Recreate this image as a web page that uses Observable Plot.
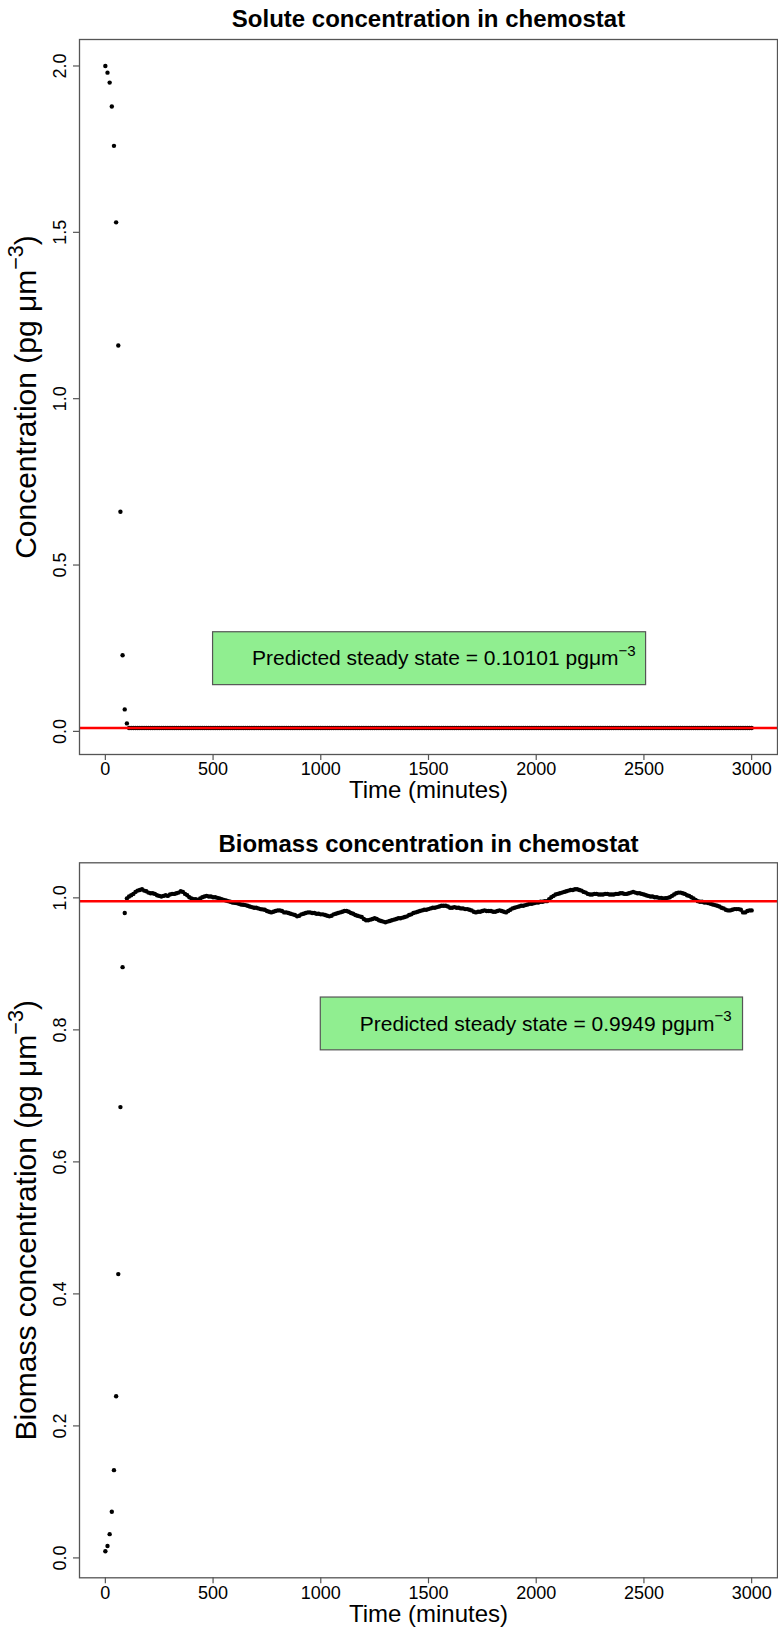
<!DOCTYPE html>
<html>
<head>
<meta charset="utf-8">
<script src="https://cdn.jsdelivr.net/npm/d3@7"></script>
<script src="https://cdn.jsdelivr.net/npm/@observablehq/plot@0.6"></script>
<style>
  html, body { margin: 0; padding: 0; background: #fff; }
  #charts svg { display: block; }
</style>
</head>
<body>
<div id="charts"></div>
<script>
// Sampling times of the simulation (minutes), one sample every 10 minutes
const time = d3.range(0, 3001, 10);

// Solute concentration (pg µm^-3) at each sample time
const solute = [
  2.0, 1.98, 1.95, 1.878, 1.76, 1.53, 1.16, 0.66, 0.229, 0.066, 0.024,
  0.0101, 0.0101, 0.0101, 0.0101, 0.0101, 0.0101, 0.0101, 0.0101, 0.0101, 0.0101,
  0.0101, 0.0101, 0.0101, 0.0101, 0.0101, 0.0101, 0.0101, 0.0101, 0.0101, 0.0101,
  0.0101, 0.0101, 0.0101, 0.0101, 0.0101, 0.0101, 0.0101, 0.0101, 0.0101, 0.0101,
  0.0101, 0.0101, 0.0101, 0.0101, 0.0101, 0.0101, 0.0101, 0.0101, 0.0101, 0.0101,
  0.0101, 0.0101, 0.0101, 0.0101, 0.0101, 0.0101, 0.0101, 0.0101, 0.0101, 0.0101,
  0.0101, 0.0101, 0.0101, 0.0101, 0.0101, 0.0101, 0.0101, 0.0101, 0.0101, 0.0101,
  0.0101, 0.0101, 0.0101, 0.0101, 0.0101, 0.0101, 0.0101, 0.0101, 0.0101, 0.0101,
  0.0101, 0.0101, 0.0101, 0.0101, 0.0101, 0.0101, 0.0101, 0.0101, 0.0101, 0.0101,
  0.0101, 0.0101, 0.0101, 0.0101, 0.0101, 0.0101, 0.0101, 0.0101, 0.0101, 0.0101,
  0.0101, 0.0101, 0.0101, 0.0101, 0.0101, 0.0101, 0.0101, 0.0101, 0.0101, 0.0101,
  0.0101, 0.0101, 0.0101, 0.0101, 0.0101, 0.0101, 0.0101, 0.0101, 0.0101, 0.0101,
  0.0101, 0.0101, 0.0101, 0.0101, 0.0101, 0.0101, 0.0101, 0.0101, 0.0101, 0.0101,
  0.0101, 0.0101, 0.0101, 0.0101, 0.0101, 0.0101, 0.0101, 0.0101, 0.0101, 0.0101,
  0.0101, 0.0101, 0.0101, 0.0101, 0.0101, 0.0101, 0.0101, 0.0101, 0.0101, 0.0101,
  0.0101, 0.0101, 0.0101, 0.0101, 0.0101, 0.0101, 0.0101, 0.0101, 0.0101, 0.0101,
  0.0101, 0.0101, 0.0101, 0.0101, 0.0101, 0.0101, 0.0101, 0.0101, 0.0101, 0.0101,
  0.0101, 0.0101, 0.0101, 0.0101, 0.0101, 0.0101, 0.0101, 0.0101, 0.0101, 0.0101,
  0.0101, 0.0101, 0.0101, 0.0101, 0.0101, 0.0101, 0.0101, 0.0101, 0.0101, 0.0101,
  0.0101, 0.0101, 0.0101, 0.0101, 0.0101, 0.0101, 0.0101, 0.0101, 0.0101, 0.0101,
  0.0101, 0.0101, 0.0101, 0.0101, 0.0101, 0.0101, 0.0101, 0.0101, 0.0101, 0.0101,
  0.0101, 0.0101, 0.0101, 0.0101, 0.0101, 0.0101, 0.0101, 0.0101, 0.0101, 0.0101,
  0.0101, 0.0101, 0.0101, 0.0101, 0.0101, 0.0101, 0.0101, 0.0101, 0.0101, 0.0101,
  0.0101, 0.0101, 0.0101, 0.0101, 0.0101, 0.0101, 0.0101, 0.0101, 0.0101, 0.0101,
  0.0101, 0.0101, 0.0101, 0.0101, 0.0101, 0.0101, 0.0101, 0.0101, 0.0101, 0.0101,
  0.0101, 0.0101, 0.0101, 0.0101, 0.0101, 0.0101, 0.0101, 0.0101, 0.0101, 0.0101,
  0.0101, 0.0101, 0.0101, 0.0101, 0.0101, 0.0101, 0.0101, 0.0101, 0.0101, 0.0101,
  0.0101, 0.0101, 0.0101, 0.0101, 0.0101, 0.0101, 0.0101, 0.0101, 0.0101, 0.0101,
  0.0101, 0.0101, 0.0101, 0.0101, 0.0101, 0.0101, 0.0101, 0.0101, 0.0101, 0.0101,
  0.0101, 0.0101, 0.0101, 0.0101, 0.0101, 0.0101, 0.0101, 0.0101, 0.0101, 0.0101
];

// Biomass concentration (pg µm^-3) at each sample time
const biomass = [
  0.01, 0.018, 0.036, 0.070, 0.133, 0.245, 0.43, 0.683, 0.895, 0.977,
  0.999, 1.002, 1.004, 1.006, 1.009, 1.011, 1.012, 1.013, 1.011, 1.010,
  1.008, 1.007, 1.007, 1.006, 1.004, 1.003, 1.002, 1.003, 1.004, 1.003,
  1.005, 1.006, 1.006, 1.007, 1.008, 1.010, 1.009, 1.006, 1.004, 1.001,
  0.999, 0.998, 0.998, 0.997, 0.999, 1.001, 1.002, 1.003, 1.002, 1.002,
  1.001, 1.001, 1.000, 0.999, 0.998, 0.997, 0.996, 0.995, 0.994, 0.993,
  0.9925, 0.992, 0.991, 0.990, 0.9895, 0.989, 0.988, 0.987, 0.986, 0.985,
  0.985, 0.984, 0.983, 0.9825, 0.982, 0.980, 0.979, 0.978, 0.979, 0.980,
  0.981, 0.981, 0.980, 0.978, 0.978, 0.977, 0.976, 0.975, 0.974, 0.972,
  0.973, 0.975, 0.976, 0.977, 0.978, 0.978, 0.977, 0.977, 0.976, 0.976,
  0.975, 0.975, 0.974, 0.973, 0.972, 0.973, 0.975, 0.976, 0.977, 0.978,
  0.979, 0.980, 0.980, 0.979, 0.977, 0.976, 0.974, 0.973, 0.972, 0.971,
  0.968, 0.966, 0.966, 0.967, 0.968, 0.969, 0.968, 0.966, 0.965, 0.964,
  0.963, 0.964, 0.965, 0.966, 0.967, 0.968, 0.969, 0.969, 0.970, 0.971,
  0.972, 0.974, 0.975, 0.977, 0.978, 0.979, 0.980, 0.981, 0.982, 0.982,
  0.983, 0.984, 0.985, 0.985, 0.986, 0.987, 0.988, 0.988, 0.988, 0.987,
  0.985, 0.985, 0.986, 0.985, 0.985, 0.984, 0.984, 0.983, 0.983, 0.982,
  0.981, 0.979, 0.978, 0.979, 0.979, 0.980, 0.981, 0.980, 0.980, 0.980,
  0.979, 0.979, 0.980, 0.981, 0.980, 0.979, 0.978, 0.980, 0.982, 0.984,
  0.985, 0.986, 0.987, 0.988, 0.988, 0.989, 0.990, 0.991, 0.991, 0.992,
  0.993, 0.993, 0.994, 0.994, 0.995, 0.995, 0.998, 1.001, 1.003, 1.005,
  1.006, 1.007, 1.008, 1.009, 1.010, 1.011, 1.012, 1.012, 1.013, 1.013,
  1.012, 1.011, 1.009, 1.008, 1.006, 1.005, 1.005, 1.006, 1.006, 1.005,
  1.005, 1.005, 1.006, 1.006, 1.005, 1.005, 1.005, 1.006, 1.006, 1.007,
  1.007, 1.006, 1.006, 1.007, 1.008, 1.009, 1.008, 1.007, 1.007, 1.006,
  1.005, 1.004, 1.003, 1.002, 1.002, 1.001, 1.001, 1.000, 1.000, 0.999,
  0.9995, 1.000, 1.001, 1.003, 1.005, 1.007, 1.008, 1.008, 1.007, 1.006,
  1.004, 1.003, 1.001, 0.999, 0.997, 0.995, 0.994, 0.994, 0.993, 0.993,
  0.992, 0.991, 0.990, 0.989, 0.988, 0.987, 0.985, 0.984, 0.982, 0.981,
  0.981, 0.982, 0.983, 0.983, 0.983, 0.982, 0.978, 0.978, 0.980, 0.981,
  0.981
];

// Predicted steady states (horizontal reference lines)
const solutePredicted = 0.010101;
const biomassPredicted = 0.9949;

// Axis ticks
const timeTicks = [0, 500, 1000, 1500, 2000, 2500, 3000];
const soluteTicks = [0, 0.5, 1.0, 1.5, 2.0];
const biomassTicks = [0, 0.2, 0.4, 0.6, 0.8, 1.0];

// Texts ("^{...}" marks a superscript)
const soluteTitle = "Solute concentration in chemostat";
const biomassTitle = "Biomass concentration in chemostat";
const timeLabel = "Time (minutes)";
const soluteLabel = "Concentration (pg μm^{−3})";
const biomassLabel = "Biomass concentration (pg μm^{−3})";
const soluteNote = "Predicted steady state = 0.10101 pgμm^{−3}";
const biomassNote = "Predicted steady state = 0.9949 pgμm^{−3}";

// Legend boxes, in data units (time, concentration)
const soluteBox = {x1: 500, x2: 2510, y1: 0.139, y2: 0.298};
const biomassBox = {x1: 1000, x2: 2960, y1: 0.769, y2: 0.849};

const FONT = "'Liberation Sans', Arial, Helvetica, sans-serif";

// Extend the data range by 4% on each side
function padded(values) {
  const [lo, hi] = d3.extent(values);
  const p = (hi - lo) * 0.04;
  return [lo - p, hi + p];
}

// Turn "^{...}" in rendered texts into raised, smaller tspans
function applySuperscripts(svg) {
  svg.querySelectorAll("text").forEach((node) => {
    const s = node.textContent;
    const m = s.match(/^(.*)\^\{([^}]*)\}(.*)$/);
    if (!m) return;
    const fs = parseFloat(node.getAttribute("font-size")) ||
               parseFloat(node.parentNode.getAttribute("font-size")) || 16;
    const ns = "http://www.w3.org/2000/svg";
    while (node.firstChild) node.removeChild(node.firstChild);
    node.appendChild(document.createTextNode(m[1]));
    const sup = document.createElementNS(ns, "tspan");
    sup.setAttribute("font-size", (fs * 0.72).toFixed(1));
    sup.setAttribute("dy", (-fs * 0.45).toFixed(1));
    sup.textContent = m[2];
    node.appendChild(sup);
    if (m[3]) {
      const rest = document.createElementNS(ns, "tspan");
      rest.setAttribute("dy", (fs * 0.45).toFixed(1));
      rest.textContent = m[3];
      node.appendChild(rest);
    }
  });
}

function chart({height, marginTop, marginBottom, values, yTicks, predicted,
                title, yLabel, box, note, titleDy, xLabelDy}) {
  const width = 778, marginLeft = 79, marginRight = 1;
  const frameW = width - marginLeft - marginRight;
  const frameH = height - marginTop - marginBottom;
  const rows = time.map((t, i) => ({t, v: values[i]}));
  const svg = Plot.plot({
    width, height, marginLeft, marginRight, marginTop, marginBottom,
    style: {fontFamily: FONT, background: "white", color: "black"},
    x: {domain: padded(time), axis: null},
    y: {domain: padded(values), axis: null},
    marks: [
      Plot.dot(rows, {x: "t", y: "v", r: 2.2, fill: "black", stroke: "none"}),
      Plot.ruleY([predicted], {stroke: "#ff0000", strokeWidth: 2.4}),
      Plot.rect([box], {x1: "x1", x2: "x2", y1: "y1", y2: "y2",
                        fill: "#90EE90", stroke: "#555", strokeWidth: 1.2}),
      Plot.text([box], {x: "x1", y: (d) => (d.y1 + d.y2) / 2, dx: 39,
                        text: () => note, textAnchor: "start", lineAnchor: "middle",
                        fontSize: 21, fill: "black"}),
      // x axis: ticks and labels
      Plot.tickX(timeTicks, {x: (d) => d, insetTop: frameH, insetBottom: -6,
                             stroke: "#555", strokeWidth: 1.2}),
      Plot.text(timeTicks, {x: (d) => d, frameAnchor: "bottom", dy: 15,
                            textAnchor: "middle", lineAnchor: "middle",
                            text: (d) => String(d), fontSize: 18, fill: "black"}),
      // y axis: ticks and labels (parallel to the axis)
      Plot.tickY(yTicks, {y: (d) => d, insetLeft: -6, insetRight: frameW,
                          stroke: "#555", strokeWidth: 1.2}),
      Plot.text(yTicks, {y: (d) => d, frameAnchor: "left", dx: -19, rotate: -90,
                         textAnchor: "middle", lineAnchor: "middle",
                         text: (d) => d.toFixed(1), fontSize: 18, fill: "black"}),
      // axis titles and main title
      Plot.text([timeLabel], {frameAnchor: "bottom", dy: xLabelDy, text: (d) => d,
                              textAnchor: "middle", lineAnchor: "middle",
                              fontSize: 24, fill: "black"}),
      Plot.text([yLabel], {frameAnchor: "left", dx: -53, rotate: -90, text: (d) => d,
                           textAnchor: "middle", lineAnchor: "middle",
                           fontSize: 30, fill: "black"}),
      Plot.text([title], {frameAnchor: "top", dy: titleDy, text: (d) => d,
                          textAnchor: "middle", lineAnchor: "middle",
                          fontSize: 24, fontWeight: "bold", fill: "black"}),
      Plot.frame({stroke: "#555", strokeWidth: 1.3})
    ]
  });
  applySuperscripts(svg);
  return svg;
}

const root = document.getElementById("charts");
root.appendChild(chart({
  height: 810, marginTop: 39, marginBottom: 56,
  values: solute, yTicks: soluteTicks, predicted: solutePredicted,
  title: soluteTitle, yLabel: soluteLabel, box: soluteBox, note: soluteNote,
  titleDy: -19.7, xLabelDy: 36
}));
root.appendChild(chart({
  height: 819, marginTop: 52.3, marginBottom: 51.7,
  values: biomass, yTicks: biomassTicks, predicted: biomassPredicted,
  title: biomassTitle, yLabel: biomassLabel, box: biomassBox, note: biomassNote,
  titleDy: -18.8, xLabelDy: 37
}));
</script>
</body>
</html>
